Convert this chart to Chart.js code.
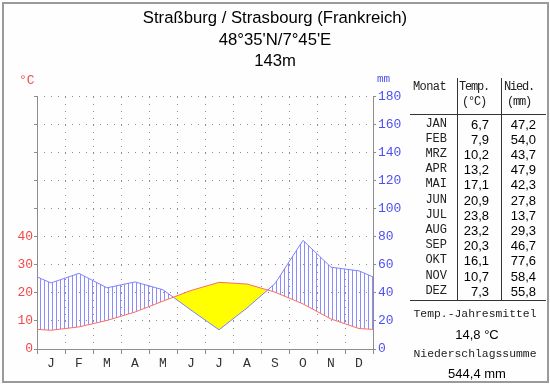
<!DOCTYPE html>
<html>
<head>
<meta charset="utf-8">
<script src="https://cdn.jsdelivr.net/npm/chart.js@4"></script>
<style>
  body { margin: 0; background: #fdfefd; }
  #wrap { position: relative; width: 550px; height: 384px; overflow: hidden; }
  #frame { position: absolute; left: 2px; top: 2px; width: 543px; height: 377px; border: 2px solid #9a9a9a; }
  canvas { position: absolute; left: 0; top: 0; }
  .t { position: absolute; white-space: nowrap; line-height: 1; }
  .mono { font-family: "Liberation Mono", "DejaVu Sans Mono", monospace; font-size: 12px; color: #222; }
  .small { font-size: 11.4px; }
  .head { letter-spacing: -1.2px; }
  .sans { font-family: "Liberation Sans", Arial, sans-serif; font-size: 13px; color: #000; }
  .hl { position: absolute; height: 1px; background: #333; }
  .vl { position: absolute; width: 1px; background: #333; }
</style>
</head>
<body>
<div id="wrap">
  <div id="frame"></div>
  <canvas id="chart" width="550" height="384"></canvas>
  <div id="table"></div>
</div>
<script>
// Station
const titleLines = ["Straßburg / Strasbourg (Frankreich)", "48°35'N/7°45'E", "143m"];

// Month axis labels and table month names
const monthInitials = ['J', 'F', 'M', 'A', 'M', 'J', 'J', 'A', 'S', 'O', 'N', 'D'];
const monthNames = ['JAN', 'FEB', 'MRZ', 'APR', 'MAI', 'JUN', 'JUL', 'AUG', 'SEP', 'OKT', 'NOV', 'DEZ'];

// Monthly means
const tempC = [6.7, 7.9, 10.2, 13.2, 17.1, 20.9, 23.8, 23.2, 20.3, 16.1, 10.7, 7.3];
const precipMm = [47.2, 54.0, 43.7, 47.9, 42.3, 27.8, 13.7, 29.3, 46.7, 77.6, 58.4, 55.8];

// Values where the curves meet the left/right frame
const tempEdge = 7.0;
const precipEdge = 51.5;

// Yearly figures
const tempMean = 14.8;
const precipSum = 544.4;

// Axis ticks
const tempTicksShown = [0, 10, 20, 30, 40];
const precipTicks = [0, 20, 40, 60, 80, 100, 120, 140, 160, 180];

const RED = '#f44848';
const BLUE = '#5050f0';
const GRID = '#8c8c8c';

function fmt(v) { return v.toFixed(1).replace('.', ','); }

// points at month centres plus both edges
function series(values, edge) {
  const pts = [{ x: 0, y: edge }];
  values.forEach((v, i) => pts.push({ x: i + 0.5, y: v }));
  pts.push({ x: 12, y: edge });
  return pts;
}

// vertical hatching for the humid part
const pc = document.createElement('canvas');
pc.width = 4; pc.height = 4;
const pctx = pc.getContext('2d');
pctx.fillStyle = '#8c8cff';
pctx.fillRect(0, 0, 1, 4);
const hatch = pctx.createPattern(pc, 'repeat');

const ctx = document.getElementById('chart').getContext('2d');
new Chart(ctx, {
  type: 'line',
  data: {
    datasets: [
      {
        label: 'Temperatur',
        data: series(tempC, tempEdge),
        yAxisID: 'yT',
        borderColor: '#ff6a6a',
        borderWidth: 1,
        pointRadius: 0,
        tension: 0,
        fill: false
      },
      {
        label: 'Niederschlag',
        data: series(precipMm, precipEdge),
        yAxisID: 'yP',
        borderColor: '#8080ff',
        borderWidth: 1,
        pointRadius: 0,
        tension: 0,
        fill: { target: 0, above: hatch, below: '#ffff00' }
      }
    ]
  },
  options: {
    responsive: false,
    animation: false,
    events: [],
    layout: { padding: 0 },
    plugins: {
      legend: { display: false },
      tooltip: { enabled: false },
      title: {
        display: true,
        text: titleLines,
        color: '#000',
        font: { family: '"Liberation Sans", Arial, sans-serif', size: 16.7, weight: 'normal', lineHeight: 1.287 },
        padding: { top: 8, bottom: 24.5 }
      }
    },
    scales: {
      x: {
        type: 'linear',
        min: 0,
        max: 12,
        afterBuildTicks: s => { s.ticks = monthInitials.map((m, i) => ({ value: i })).concat([{ value: 12 }]); },
        afterFit: s => { s.height = 35; },
        ticks: {
          callback: (v) => monthInitials[v] || '',
          labelOffset: 14,
          maxRotation: 0,
          autoSkip: false,
          padding: 2,
          color: '#333',
          font: { family: '"Liberation Mono", monospace', size: 13 }
        },
        grid: { color: GRID, tickColor: GRID, tickLength: 5, lineWidth: 1 },
        border: { display: true, color: GRID, width: 1, dash: [1, 6] }
      },
      yT: {
        position: 'left',
        min: 0,
        max: 90,
        afterBuildTicks: s => { s.ticks = [0, 10, 20, 30, 40, 50, 60, 70, 80, 90].map(v => ({ value: v })); },
        afterFit: s => { s.width = 37; },
        ticks: {
          callback: v => tempTicksShown.includes(v) ? String(v) : '',
          color: RED,
          padding: 1,
          font: { family: '"Liberation Mono", monospace', size: 13 }
        },
        grid: { drawOnChartArea: false, tickColor: GRID, tickLength: 3 },
        border: { display: true, color: GRID, width: 1 }
      },
      yP: {
        position: 'right',
        min: 0,
        max: 180,
        afterBuildTicks: s => { s.ticks = precipTicks.map(v => ({ value: v })); },
        afterFit: s => { s.width = 177; },
        ticks: {
          color: BLUE,
          padding: 2,
          font: { family: '"Liberation Mono", monospace', size: 13 }
        },
        grid: { color: GRID, tickColor: GRID, tickLength: 3, lineWidth: 1 },
        border: { display: true, color: GRID, width: 1, dash: [1, 6] }
      }
    }
  }
});

// unit labels and table beside the plot
const tbl = document.getElementById('table');
function put(cls, text, x, y, align) {
  const d = document.createElement('div');
  d.className = 't ' + cls;
  d.textContent = text;
  d.style.top = (y - 6) + 'px';
  if (align === 'right') { d.style.right = (550 - x) + 'px'; }
  else if (align === 'center') { d.style.left = (x - 100) + 'px'; d.style.width = '200px'; d.style.textAlign = 'center'; }
  else { d.style.left = x + 'px'; }
  tbl.appendChild(d);
  return d;
}
function line(cls, x, y, len) {
  const d = document.createElement('div');
  d.className = cls;
  d.style.left = x + 'px';
  d.style.top = y + 'px';
  if (cls === 'hl') d.style.width = len + 'px'; else d.style.height = len + 'px';
  tbl.appendChild(d);
}

put('mono', '°C', 19, 80).style.cssText += 'color:' + RED + ';font-size:13px;';
put('mono', 'mm', 377, 80).style.cssText += 'color:' + BLUE + ';font-size:11px;';

put('mono', 'Monat', 413, 87).style.letterSpacing = '-0.6px';
put('mono head', 'Temp.', 474, 87, 'center');
put('mono head', '(°C)', 474, 102, 'center');
put('mono head', 'Nied.', 519, 87, 'center');
put('mono head', '(mm)', 519, 102, 'center');
line('hl', 410, 114, 136);
line('hl', 410, 300, 136);
line('vl', 457, 78, 222);
line('vl', 501, 78, 222);

monthNames.forEach((m, i) => {
  const y = 123.5 + i * 15.2;
  put('mono', m, 447, y, 'right');
  put('sans', fmt(tempC[i]), 489, y, 'right');
  put('sans', fmt(precipMm[i]), 536, y, 'right');
});

put('mono small', 'Temp.-Jahresmittel', 475, 315, 'center');
put('sans', fmt(tempMean) + ' °C', 477, 334, 'center');
put('mono small', 'Niederschlagssumme', 475, 355, 'center');
put('sans', fmt(precipSum) + ' mm', 477, 373, 'center');
</script>
</body>
</html>
